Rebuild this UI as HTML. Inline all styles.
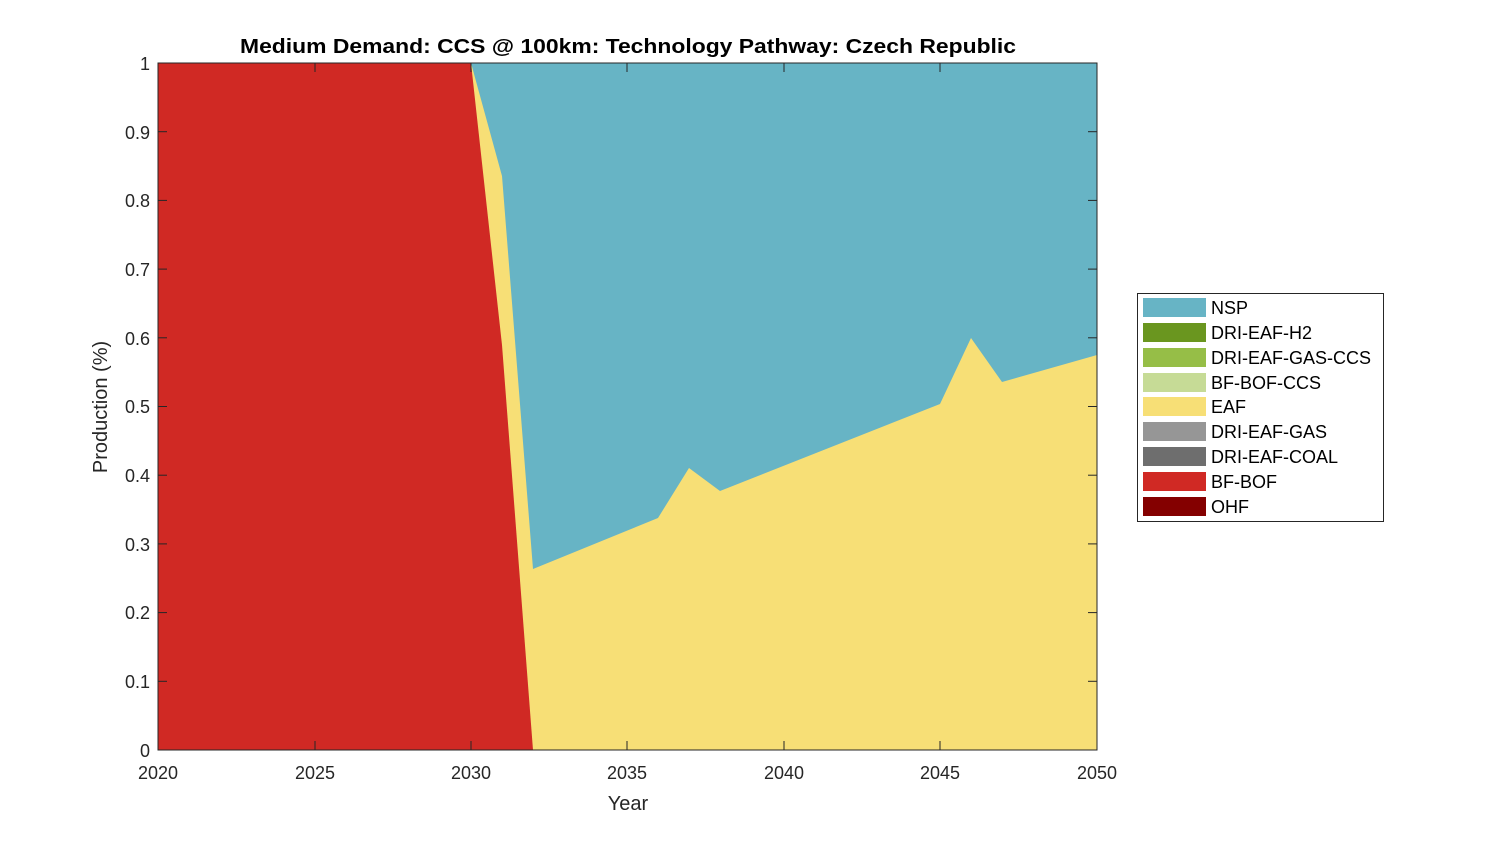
<!DOCTYPE html>
<html><head><style>body{margin:0;background:#fff}svg{display:block}text{font-family:"Liberation Sans",Arial,sans-serif}</style></head><body>
<svg width="1500" height="844" viewBox="0 0 1500 844">
<rect width="1500" height="844" fill="#fff"/>
<rect x="158" y="63" width="939" height="687" fill="#67b4c5"/>
<polygon fill="#f7df76" points="158,750 158,63 471,63 502,176 533,569 658,518 689,468 720,491 940,404 971,338 1002,382 1097,355 1097,750"/>
<polygon fill="#d02924" points="158,750 158,63 471,63 502,345 533,750"/>
<rect x="158" y="63" width="939" height="687" fill="none" stroke="#262626" stroke-width="1"/>
<g stroke="#262626" stroke-width="1">
<line x1="315" y1="750" x2="315" y2="741"/><line x1="471" y1="750" x2="471" y2="741"/><line x1="627" y1="750" x2="627" y2="741"/><line x1="784" y1="750" x2="784" y2="741"/><line x1="940" y1="750" x2="940" y2="741"/>
<line x1="315" y1="63" x2="315" y2="72"/><line x1="471" y1="63" x2="471" y2="72"/><line x1="627" y1="63" x2="627" y2="72"/><line x1="784" y1="63" x2="784" y2="72"/><line x1="940" y1="63" x2="940" y2="72"/>
</g>
<g stroke="#262626" stroke-width="1">
<line x1="158" y1="681.3" x2="167" y2="681.3"/><line x1="158" y1="612.6" x2="167" y2="612.6"/><line x1="158" y1="543.9" x2="167" y2="543.9"/><line x1="158" y1="475.2" x2="167" y2="475.2"/><line x1="158" y1="406.5" x2="167" y2="406.5"/><line x1="158" y1="337.8" x2="167" y2="337.8"/><line x1="158" y1="269.1" x2="167" y2="269.1"/><line x1="158" y1="200.4" x2="167" y2="200.4"/><line x1="158" y1="131.7" x2="167" y2="131.7"/>
<line x1="1097" y1="681.3" x2="1088" y2="681.3"/><line x1="1097" y1="612.6" x2="1088" y2="612.6"/><line x1="1097" y1="543.9" x2="1088" y2="543.9"/><line x1="1097" y1="475.2" x2="1088" y2="475.2"/><line x1="1097" y1="406.5" x2="1088" y2="406.5"/><line x1="1097" y1="337.8" x2="1088" y2="337.8"/><line x1="1097" y1="269.1" x2="1088" y2="269.1"/><line x1="1097" y1="200.4" x2="1088" y2="200.4"/><line x1="1097" y1="131.7" x2="1088" y2="131.7"/>
</g>
<g font-size="18" fill="#262626" text-anchor="end">
<text x="150" y="757">0</text><text x="150" y="688">0.1</text><text x="150" y="619">0.2</text><text x="150" y="551">0.3</text><text x="150" y="482">0.4</text><text x="150" y="413">0.5</text><text x="150" y="345">0.6</text><text x="150" y="276">0.7</text><text x="150" y="207">0.8</text><text x="150" y="139">0.9</text><text x="150" y="70">1</text>
</g>
<g font-size="18" fill="#262626" text-anchor="middle">
<text x="158" y="779">2020</text><text x="315" y="779">2025</text><text x="471" y="779">2030</text><text x="627" y="779">2035</text><text x="784" y="779">2040</text><text x="940" y="779">2045</text><text x="1097" y="779">2050</text>
<text x="628" y="810" font-size="20">Year</text>
<text transform="translate(107,407) rotate(-90)" font-size="20">Production (%)</text>
</g>
<text x="240" y="53" font-size="20" font-weight="bold" fill="#000" textLength="776" lengthAdjust="spacingAndGlyphs">Medium Demand: CCS @ 100km: Technology Pathway: Czech Republic</text>
<rect x="1137.5" y="293.5" width="246" height="228" fill="#fff" stroke="#262626"/>
<g font-size="18" fill="#000">
<rect x="1143" y="298" width="63" height="19" fill="#67b4c5"/><text x="1211" y="314">NSP</text>
<rect x="1143" y="323" width="63" height="19" fill="#6a961f"/><text x="1211" y="339">DRI-EAF-H2</text>
<rect x="1143" y="348" width="63" height="19" fill="#96be47"/><text x="1211" y="364">DRI-EAF-GAS-CCS</text>
<rect x="1143" y="373" width="63" height="19" fill="#c6db96"/><text x="1211" y="389">BF-BOF-CCS</text>
<rect x="1143" y="397" width="63" height="19" fill="#f7df76"/><text x="1211" y="413">EAF</text>
<rect x="1143" y="422" width="63" height="19" fill="#969696"/><text x="1211" y="438">DRI-EAF-GAS</text>
<rect x="1143" y="447" width="63" height="19" fill="#6e6e6e"/><text x="1211" y="463">DRI-EAF-COAL</text>
<rect x="1143" y="472" width="63" height="19" fill="#d02924"/><text x="1211" y="488">BF-BOF</text>
<rect x="1143" y="497" width="63" height="19" fill="#840000"/><text x="1211" y="513">OHF</text>
</g>
</svg>
</body></html>
